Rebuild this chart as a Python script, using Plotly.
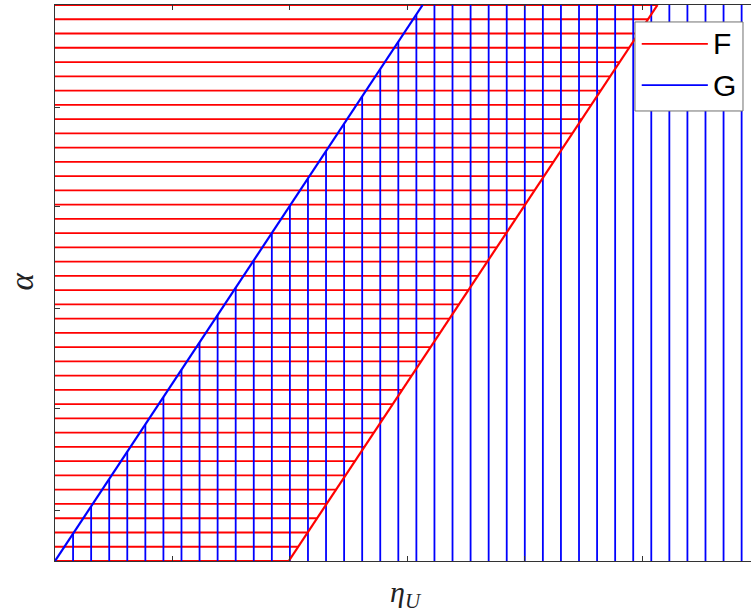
import numpy as np
import plotly.graph_objects as go

# Boundary of region F (red): eta_U as a function of alpha
F_alpha = [0.0, 1.0]
F_eta = [1.99, 5.13]

# Boundary of region G (blue)
G_alpha = [0.0, 1.0]
G_eta = [0.0, 3.13]

# Hatching grids: 40 levels of alpha for F, 40 levels of eta_U for G
alpha_levels = np.linspace(0.0, 1.0, 40)
eta_levels = np.linspace(0.0, 6.0, 40)

# Axis ticks (no labels shown)
x_ticks = [1, 2, 3, 4, 5]
y_ticks = [0.0917, 0.2734, 0.4550, 0.6367, 0.8165]

RED = "#FF0000"
BLUE = "#0000FF"

# F: horizontal hatch lines from eta=0 to the F boundary
fx, fy = [], []
for a in alpha_levels:
    e_end = float(np.interp(a, F_alpha, F_eta))
    fx += [0.0, e_end, None]
    fy += [a, a, None]

# G: vertical hatch lines from alpha=0 up to the G boundary
gx, gy = [], []
for e in eta_levels:
    a_end = float(np.interp(e, G_eta, G_alpha))
    gx += [e, e, None]
    gy += [0.0, a_end, None]

fig = go.Figure()
fig.add_trace(go.Scatter(x=fx, y=fy, mode="lines", name="F",
                         line=dict(color=RED, width=1.8), showlegend=False,
                         hoverinfo="skip"))
fig.add_trace(go.Scatter(x=gx, y=gy, mode="lines", name="G",
                         line=dict(color=BLUE, width=1.8), showlegend=False,
                         hoverinfo="skip"))
fig.add_trace(go.Scatter(x=G_eta, y=G_alpha, mode="lines", name="G boundary",
                         line=dict(color=BLUE, width=2.2), showlegend=False))
fig.add_trace(go.Scatter(x=F_eta, y=F_alpha, mode="lines", name="F boundary",
                         line=dict(color=RED, width=2.2), showlegend=False))

# Legend box drawn in paper coordinates
lx0, lx1, ly0, ly1 = 0.8333, 0.9885, 0.8094, 0.9695
shapes = [
    dict(type="rect", xref="paper", yref="paper", x0=lx0, x1=lx1, y0=ly0, y1=ly1,
         line=dict(color="#707070", width=1), fillcolor="white", layer="above"),
    dict(type="line", xref="paper", yref="paper", x0=0.843, x1=0.938,
         y0=0.930, y1=0.930, line=dict(color=RED, width=1.8), layer="above"),
    dict(type="line", xref="paper", yref="paper", x0=0.843, x1=0.938,
         y0=0.856, y1=0.856, line=dict(color=BLUE, width=1.8), layer="above"),
]

annotations = [
    dict(text="F", xref="paper", yref="paper", x=0.942, y=0.930,
         xanchor="left", yanchor="middle", showarrow=False,
         font=dict(family="Liberation Sans, Arial", size=30, color="black")),
    dict(text="G", xref="paper", yref="paper", x=0.942, y=0.856,
         xanchor="left", yanchor="middle", showarrow=False,
         font=dict(family="Liberation Sans, Arial", size=30, color="black")),
    dict(text="<i>η</i><sub><i>U</i></sub>", xref="paper", yref="paper",
         x=0.504, y=-0.060, xanchor="center", yanchor="middle", showarrow=False,
         font=dict(family="Liberation Serif, DejaVu Serif", size=30, color="#222")),
    dict(text="<i>α</i>", xref="paper", yref="paper", x=-0.047, y=0.503,
         xanchor="center", yanchor="middle", showarrow=False, textangle=-90,
         font=dict(family="Liberation Serif, DejaVu Serif", size=33, color="#222")),
]

fig.update_layout(
    width=751, height=614,
    margin=dict(l=55, r=0, t=5, b=53),
    paper_bgcolor="white", plot_bgcolor="white",
    shapes=shapes, annotations=annotations,
    showlegend=False,
    xaxis=dict(range=[0, 696 / 117.45], tickvals=x_ticks, showticklabels=False,
               ticks="inside", ticklen=5, tickcolor="#333", showgrid=False,
               zeroline=False, showline=True, linecolor="#333", linewidth=1,
               mirror="ticks"),
    yaxis=dict(range=[0, 1], tickvals=y_ticks, showticklabels=False,
               ticks="inside", ticklen=5, tickcolor="#333", showgrid=False,
               zeroline=False, showline=True, linecolor="#333", linewidth=1,
               mirror=False),
)

fig.write_html("out.html")
